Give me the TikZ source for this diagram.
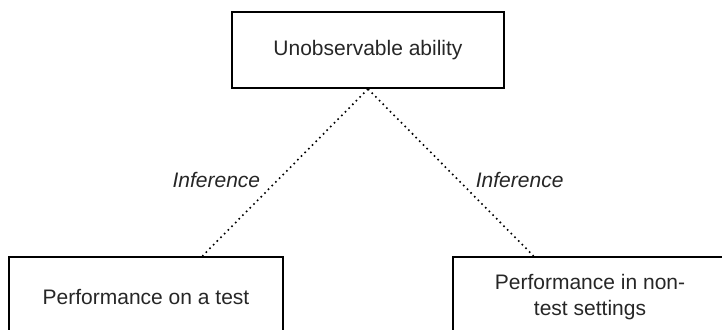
\documentclass[tikz,border=0pt]{standalone}
\usepackage{fontspec}
\setmainfont{Liberation Sans}
\begin{document}
\begin{tikzpicture}[x=0.5pt,y=0.5pt,
  box/.style={draw,line width=1pt,inner sep=0pt,align=center,
    font=\fontsize{10.5}{13}\selectfont,text=black!85},
  infer/.style={line width=0.8pt,dash pattern=on 0.8pt off 1.8pt},
  lbl/.style={font=\fontsize{10.5}{13}\selectfont\itshape,inner sep=0pt,text=black!85}]
  \useasboundingbox (0,0) rectangle (722,330);
  \node[box,minimum width=136pt,minimum height=38pt] (ability) at (368,280) {Unobservable ability};
  \node[box,minimum width=137pt,minimum height=40pt] (test) at (146,33) {Performance on a test};
  \node[box,minimum width=137pt,minimum height=40pt] (nontest) at (590,33) {Performance in non-\\test settings};
  \draw[infer] (ability.south) -- node[lbl,pos=0.544,left=8.5pt] {Inference} (test.36);
  \draw[infer] (ability.south) -- node[lbl,pos=0.544,right=8.5pt] {Inference} (nontest.144);
\end{tikzpicture}
\end{document}
